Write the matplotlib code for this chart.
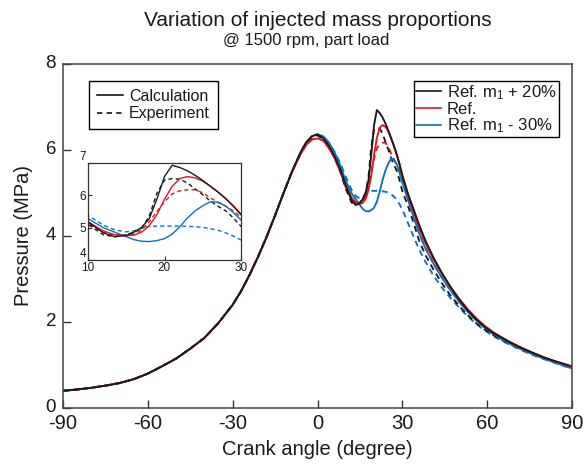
import matplotlib
matplotlib.use("Agg")
import matplotlib.pyplot as plt
from matplotlib.lines import Line2D
from matplotlib.transforms import ScaledTranslation
import numpy as np

plt.rcParams['font.family'] = ['Liberation Sans', 'DejaVu Sans']
plt.rcParams['axes.unicode_minus'] = False
plt.rcParams['mathtext.fontset'] = 'custom'
plt.rcParams['mathtext.rm'] = 'Liberation Sans'
plt.rcParams['mathtext.it'] = 'Liberation Sans'

# ---------------- data ----------------
# compression stroke (all cases coincide)
ang_comp = [-90, -85, -80, -75, -70, -65, -60, -55, -50, -45, -40, -35, -30,
            -27, -24, -21, -18, -15, -12, -9]
p_comp = [0.40, 0.43, 0.47, 0.52, 0.58, 0.67, 0.80, 0.97, 1.15, 1.38, 1.63, 1.98, 2.40,
          2.72, 3.10, 3.52, 3.98, 4.48, 5.00, 5.50]

ang_tail = [-6, -4, -2, 0, 2, 4, 6, 8, 10, 12, 13.5, 15, 16, 17, 18, 19, 20, 21, 22, 23,
            24, 25, 26, 27, 28, 29, 30, 32, 34, 36, 38, 41, 44, 47, 50, 53, 56, 59, 62,
            65, 68, 71, 74, 77, 80, 83, 86, 90]

calc_plus20 = [5.95, 6.18, 6.32, 6.36, 6.28, 6.10, 5.86, 5.56, 5.18, 4.84, 4.72, 4.76, 4.86,
               5.00, 5.28, 5.88, 6.58, 6.93, 6.86, 6.76, 6.62, 6.46, 6.28, 6.10, 5.90, 5.66,
               5.40, 4.98, 4.62, 4.25, 3.92, 3.50, 3.14, 2.82, 2.53, 2.28, 2.07, 1.89, 1.75,
               1.64, 1.53, 1.43, 1.34, 1.26, 1.18, 1.11, 1.05, 0.97]
calc_ref = [5.90, 6.12, 6.24, 6.27, 6.22, 6.05, 5.82, 5.52, 5.18, 4.90, 4.78, 4.75, 4.77,
            4.86, 5.06, 5.40, 5.88, 6.28, 6.52, 6.58, 6.54, 6.44, 6.28, 6.10, 5.90, 5.68,
            5.42, 4.96, 4.56, 4.18, 3.86, 3.46, 3.12, 2.82, 2.55, 2.31, 2.10, 1.92, 1.77,
            1.65, 1.54, 1.44, 1.35, 1.26, 1.18, 1.11, 1.04, 0.95]
calc_minus30 = [5.93, 6.17, 6.32, 6.37, 6.32, 6.18, 5.95, 5.65, 5.28, 5.00, 4.86, 4.72, 4.63,
                4.58, 4.57, 4.60, 4.66, 4.80, 5.03, 5.30, 5.52, 5.68, 5.80, 5.79, 5.67, 5.47,
                5.24, 4.84, 4.44, 4.06, 3.74, 3.36, 3.03, 2.74, 2.48, 2.25, 2.05, 1.88, 1.73,
                1.61, 1.50, 1.40, 1.31, 1.23, 1.15, 1.08, 1.01, 0.92]
exp_plus20 = [5.93, 6.16, 6.30, 6.34, 6.26, 6.08, 5.83, 5.50, 5.10, 4.78, 4.72, 4.78, 4.86,
              4.98, 5.35, 6.06, 6.47, 6.52, 6.50, 6.38, 6.20, 6.02, 5.82, 5.66, 5.52, 5.30,
              5.04, 4.70, 4.30, 3.88, 3.58, 3.22, 2.90, 2.62, 2.38, 2.17, 1.98, 1.83, 1.70,
              1.59, 1.49, 1.40, 1.31, 1.23, 1.16, 1.09, 1.03, 0.95]
exp_ref = [5.90, 6.12, 6.25, 6.28, 6.22, 6.05, 5.82, 5.52, 5.13, 4.86, 4.78, 4.76, 4.80,
           4.92, 5.18, 5.50, 5.80, 6.04, 6.14, 6.17, 6.17, 6.08, 5.92, 5.78, 5.66, 5.52,
           5.32, 4.88, 4.46, 4.06, 3.74, 3.36, 3.03, 2.74, 2.48, 2.25, 2.05, 1.88, 1.73,
           1.61, 1.50, 1.40, 1.31, 1.23, 1.16, 1.09, 1.02, 0.94]
exp_minus30 = [5.95, 6.16, 6.30, 6.35, 6.30, 6.16, 5.96, 5.70, 5.38, 5.08, 4.93, 4.87, 4.90,
               4.98, 5.04, 5.05, 5.05, 5.05, 5.05, 5.04, 5.03, 5.01, 4.97, 4.92, 4.84, 4.74,
               4.62, 4.30, 3.98, 3.68, 3.42, 3.08, 2.80, 2.56, 2.34, 2.14, 1.96, 1.81, 1.68,
               1.57, 1.47, 1.38, 1.29, 1.21, 1.14, 1.07, 1.00, 0.92]

case_labels = ['Ref. m$_1$ + 20%', 'Ref.', 'Ref. m$_1$ - 30%']
type_labels = ['Calculation', 'Experiment']
x_ticks = [-90, -60, -30, 0, 30, 60, 90]
y_ticks = [0, 2, 4, 6, 8]
inset_x_ticks = [10, 20, 30]
inset_y_ticks = [4, 5, 6, 7]

BLACK = '#1a1a1a'
RED = '#e3161f'
BLUE = '#0a72bd'
TXT = '#1a1a1a'
colors = [BLACK, RED, BLUE]
calc_series = [calc_plus20, calc_ref, calc_minus30]
exp_series = [exp_plus20, exp_ref, exp_minus30]

ang = np.array(ang_comp + ang_tail)

W, H = 586, 466
fig = plt.figure(figsize=(W / 100, H / 100), dpi=100)
ax = fig.add_axes([63 / W, 1 - 408 / H, (572 - 63) / W, (408 - 64) / H])

dash = (0, (3.2, 2.4))
for c, es in zip(colors[::-1], exp_series[::-1]):
    ax.plot(ang, np.array(p_comp + es), color=c, lw=1.35, linestyle=dash)
for c, cs in zip(colors[::-1], calc_series[::-1]):
    ax.plot(ang, np.array(p_comp + cs), color=c, lw=1.35)

ax.set_xlim(-90, 90)
ax.set_ylim(0, 8)
ax.set_xticks(x_ticks)
ax.set_yticks(y_ticks)
ax.set_xticklabels([str(v) for v in x_ticks])
ax.tick_params(direction='in', length=5.5, width=1, colors='#333333', labelcolor=TXT)
ax.tick_params(axis='x', labelsize=14.5, pad=4.5)
ax.tick_params(axis='y', labelsize=13.5, pad=5)
up = ScaledTranslation(0, 3 / 100, fig.dpi_scale_trans)
for lab in ax.get_yticklabels():
    lab.set_transform(lab.get_transform() + up)
for s in ax.spines.values():
    s.set_color('#444444')
    s.set_linewidth(1.1)
ax.set_xlabel('Crank angle (degree)', fontsize=14.5, color=TXT, labelpad=5)
ax.set_ylabel('Pressure (MPa)', fontsize=14.5, color=TXT, labelpad=9)

fig.text(317.5 / W, 1 - 20 / H, 'Variation of injected mass proportions', ha='center',
         va='center', fontsize=15, color=TXT)
fig.text(306 / W, 1 - 41 / H, '@ 1500 rpm, part load', ha='center', va='center',
         fontsize=12, color=TXT)

# legends
h1 = [Line2D([], [], color='k', lw=1.1), Line2D([], [], color='k', lw=1.1, linestyle=(0, (3.5, 2.8)))]
leg1 = fig.legend(h1, type_labels, loc='upper left', bbox_to_anchor=(89 / W, 1 - 81 / H),
                  frameon=True, fancybox=False, edgecolor='k', framealpha=1, fontsize=11.5,
                  handlelength=1.6, handletextpad=0.4, labelspacing=0.15, borderpad=0.5,
                  borderaxespad=0)
leg1.get_frame().set_linewidth(1.0)
for t in leg1.get_texts():
    t.set_color(TXT)
h2 = [Line2D([], [], color=c, lw=1.2) for c in colors]
leg2 = fig.legend(h2, case_labels, loc='upper left', bbox_to_anchor=(414 / W, 1 - 81 / H),
                  frameon=True, fancybox=False, edgecolor='k', framealpha=1, fontsize=12,
                  handlelength=1.5, handletextpad=0.35, labelspacing=0.0, borderpad=0.12,
                  borderaxespad=0)
leg2.get_frame().set_linewidth(1.0)
for t in leg2.get_texts():
    t.set_color(TXT)

# inset
ins = fig.add_axes([88 / W, 1 - 260 / H, (241 - 88) / W, (260 - 163) / H])
for c, es in zip(colors[::-1], exp_series[::-1]):
    ins.plot(ang, np.array(p_comp + es), color=c, lw=1.0, linestyle=(0, (3, 2.2)))
for c, cs in zip(colors[::-1], calc_series[::-1]):
    ins.plot(ang, np.array(p_comp + cs), color=c, lw=1.0)
ins.set_xlim(10, 30)
ins.set_ylim(4, 7)
ins.set_xticks(inset_x_ticks)
ins.set_yticks(inset_y_ticks)
ins.tick_params(direction='in', length=3, width=0.8, labelsize=8.5, pad=1.5,
                colors='#333333', labelcolor=TXT)
ylabs = ins.get_yticklabels()
ylabs[0].set_va('bottom')
ylabs[-1].set_va('bottom')
for s in ins.spines.values():
    s.set_color('#333333')
    s.set_linewidth(0.9)

fig.savefig('out.png', dpi=100)
